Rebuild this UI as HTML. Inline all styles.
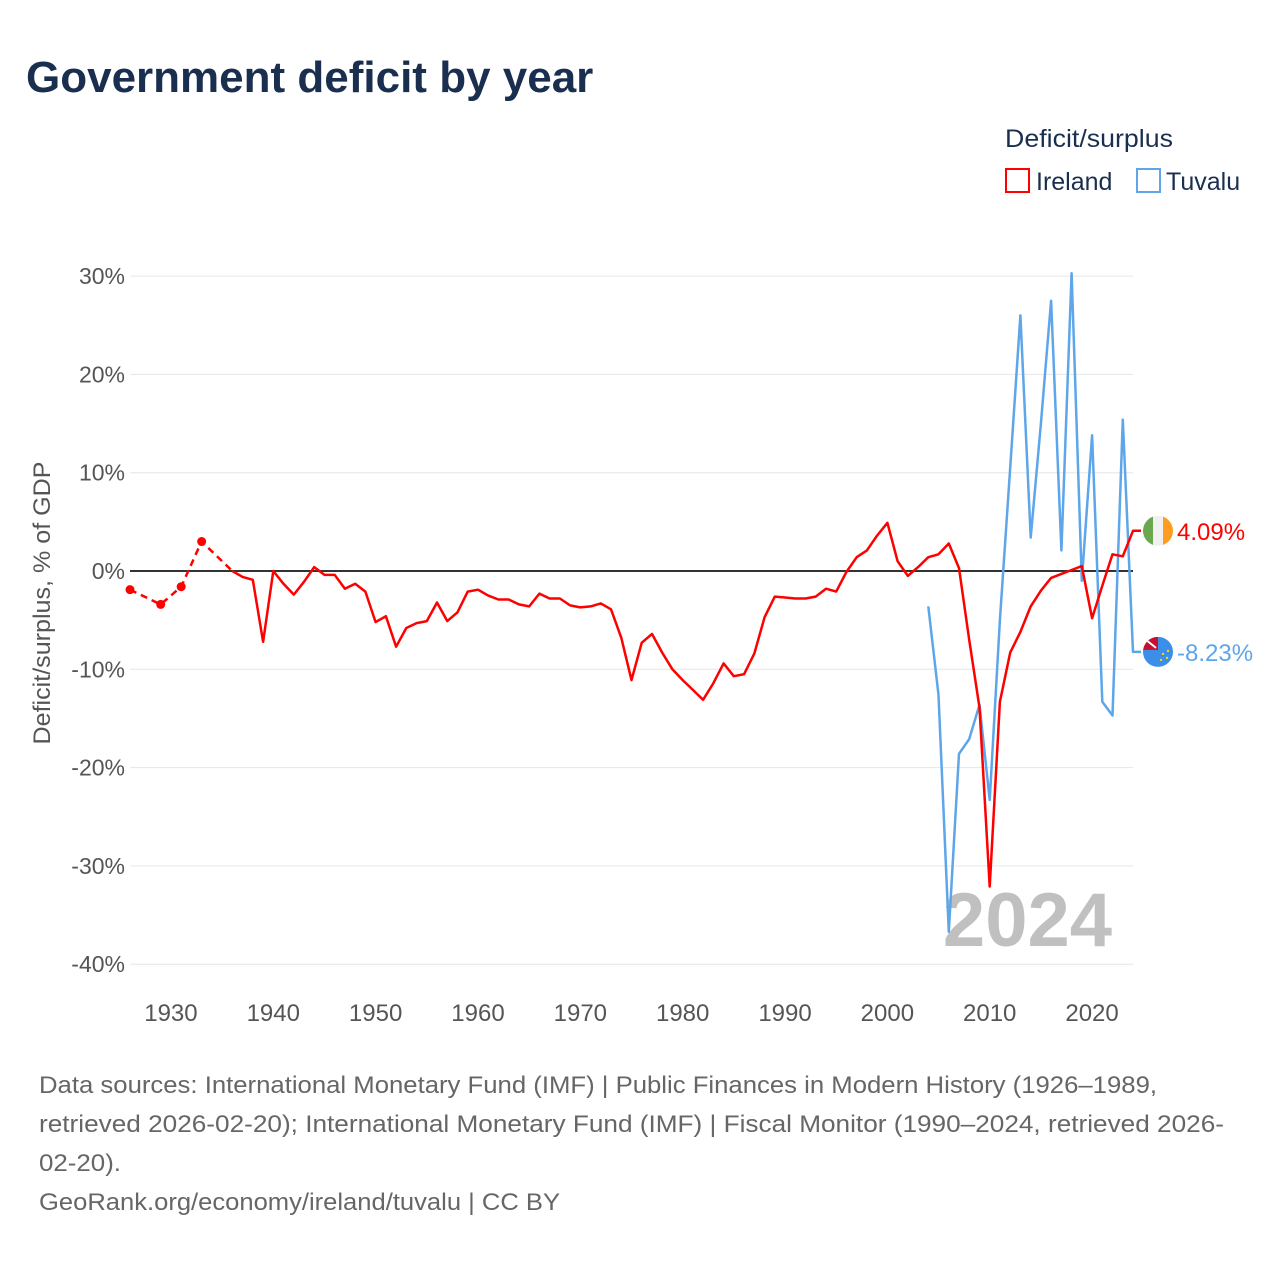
<!DOCTYPE html>
<html><head><meta charset="utf-8">
<style>
body{margin:0;background:#fff;font-family:"Liberation Sans",sans-serif;}
#wrap{position:relative;width:1280px;height:1280px;overflow:hidden;}
</style></head>
<body>
<div id="wrap">
<svg id="chart" width="1280" height="1280"></svg>
</div>
<script>
const irelandYears=[1926,1929,1931,1933,1936,1937,1938,1939,1940,1941,1942,1943,1944,1945,1946,1947,1948,1949,1950,1951,1952,1953,1954,1955,1956,1957,1958,1959,1960,1961,1962,1963,1964,1965,1966,1967,1968,1969,1970,1971,1972,1973,1974,1975,1976,1977,1978,1979,1980,1981,1982,1983,1984,1985,1986,1987,1988,1989,1990,1991,1992,1993,1994,1995,1996,1997,1998,1999,2000,2001,2002,2003,2004,2005,2006,2007,2008,2009,2010,2011,2012,2013,2014,2015,2016,2017,2018,2019,2020,2021,2022,2023,2024];
const irelandValues=[-1.9,-3.4,-1.6,3.0,0,-0.6,-0.9,-7.2,0,-1.3,-2.4,-1.1,0.4,-0.4,-0.4,-1.8,-1.3,-2.1,-5.2,-4.6,-7.7,-5.8,-5.3,-5.1,-3.2,-5.1,-4.2,-2.1,-1.9,-2.5,-2.9,-2.9,-3.4,-3.6,-2.3,-2.8,-2.8,-3.5,-3.7,-3.6,-3.3,-3.9,-6.8,-11.1,-7.3,-6.4,-8.3,-10.0,-11.1,-12.1,-13.1,-11.4,-9.4,-10.7,-10.5,-8.4,-4.7,-2.6,-2.7,-2.8,-2.8,-2.6,-1.8,-2.1,-0.1,1.4,2.1,3.6,4.9,1.0,-0.5,0.4,1.4,1.7,2.8,0.3,-7.0,-13.9,-32.1,-13.3,-8.3,-6.2,-3.6,-2.0,-0.7,-0.3,0.1,0.5,-4.8,-1.5,1.7,1.5,4.09];
const irelandDashedCount=5;
const tuvaluYears=[2004,2005,2006,2007,2008,2009,2010,2011,2012,2013,2014,2015,2016,2017,2018,2019,2020,2021,2022,2023,2024];
const tuvaluValues=[-3.6,-12.6,-36.7,-18.6,-17.1,-13.6,-23.3,-5,10.5,26.0,3.4,15,27.5,2.1,30.3,-1.0,13.8,-13.3,-14.7,15.4,-8.23];
const yTicks=[30,20,10,0,-10,-20,-30,-40];
const xTicks=[1930,1940,1950,1960,1970,1980,1990,2000,2010,2020];

const NS='http://www.w3.org/2000/svg';
const svg=document.getElementById('chart');
function xs(y){return 130+(y-1926)*(1133-130)/98;}
function ys(v){return 571-v*9.83;}
function mk(tag,attrs,text){const e=document.createElementNS(NS,tag);for(const k in attrs)e.setAttribute(k,attrs[k]);if(text!==undefined)e.textContent=text;svg.appendChild(e);return e;}

let t=mk('text',{x:26,y:92,'font-size':44,'font-weight':'bold',fill:'#1a2f4f'},'Government deficit by year');



t=mk('text',{x:1005,y:147,'font-size':25,fill:'#1a2f4f',textLength:168,lengthAdjust:'spacingAndGlyphs'},'Deficit/surplus');


let r=mk('rect',{x:1006,y:169,width:23,height:23,fill:'none',stroke:'#f00','stroke-width':2});


t=mk('text',{x:1036,y:190,'font-size':25,fill:'#1a2f4f'},'Ireland');


r=mk('rect',{x:1137,y:169,width:23,height:23,fill:'none',stroke:'#5ea6ea','stroke-width':2});


t=mk('text',{x:1166,y:190,'font-size':25,fill:'#1a2f4f'},'Tuvalu');



yTicks.forEach(v=>{
  const l=mk('line',{x1:130,x2:1133,y1:ys(v),y2:ys(v),stroke:v===0?'#333':'#e6e6e6','stroke-width':v===0?2:1});
  
  
  const tx=mk('text',{x:125,y:ys(v)+8,'font-size':23,fill:'#555','text-anchor':'end'},v+'%');
  
  
});
xTicks.forEach(y=>{
  const tx=mk('text',{x:xs(y),y:1021,'font-size':24,fill:'#555','text-anchor':'middle'},String(y));
  
  
});
t=mk('text',{x:0,y:0,'font-size':24,fill:'#555','text-anchor':'middle',transform:'translate(50,603) rotate(-90)',textLength:283,lengthAdjust:'spacingAndGlyphs'},'Deficit/surplus, % of GDP');



t=mk('text',{x:1112,y:946,'font-size':76,'font-weight':'bold',fill:'#c0c0c0','text-anchor':'end'},'2024');



function pts(ys_,vs,a,b){return ys_.slice(a,b).map((y,i)=>xs(y).toFixed(1)+','+ys(vs[a+i]).toFixed(1)).join(' ');}
const tuLast=tuvaluValues[tuvaluValues.length-1], irLast=irelandValues[irelandValues.length-1];
let p=mk('polyline',{points:pts(tuvaluYears,tuvaluValues,0,tuvaluYears.length)+' 1141,'+ys(tuLast).toFixed(1),fill:'none',stroke:'#5ea6ea','stroke-width':2.5,'stroke-linejoin':'round'});


p=mk('polyline',{points:pts(irelandYears,irelandValues,0,irelandDashedCount),fill:'none',stroke:'#f00','stroke-width':2.5,'stroke-dasharray':'7,5'});


for(let i=0;i<irelandDashedCount-1;i++){
  const c=mk('circle',{cx:xs(irelandYears[i]),cy:ys(irelandValues[i]),r:4.5,fill:'#f00'});
  
  
}
p=mk('polyline',{points:pts(irelandYears,irelandValues,irelandDashedCount-1,irelandYears.length)+' 1141,'+ys(irLast).toFixed(1),fill:'none',stroke:'#f00','stroke-width':2.5,'stroke-linejoin':'round'});



const irY=ys(irLast), tuY=ys(tuLast);
let g=mk('g',{});


g.innerHTML=`<clipPath id="cI"><circle cx="1158" cy="${irY}" r="15"/></clipPath><g clip-path="url(#cI)"><rect x="1143" y="${irY-15}" width="10" height="30" fill="#6aa84f"/><rect x="1153" y="${irY-15}" width="10" height="30" fill="#f0f0f0"/><rect x="1163" y="${irY-15}" width="10" height="30" fill="#ff9b1f"/></g>`;
g=mk('g',{});


g.innerHTML=`<clipPath id="cT"><circle cx="1158" cy="${tuY}" r="15"/></clipPath><g clip-path="url(#cT)"><rect x="1143" y="${tuY-15}" width="30" height="30" fill="#3b8fe8"/><rect x="1143" y="${tuY-15}" width="15" height="13" fill="#c8102e"/><path d="M1146 ${tuY-12} L1156 ${tuY-4}" stroke="#fff" stroke-width="2"/><circle cx="1163" cy="${tuY+2}" r="1.2" fill="#ffd700"/><circle cx="1167" cy="${tuY+6}" r="1.2" fill="#ffd700"/><circle cx="1161" cy="${tuY+8}" r="1.2" fill="#ffd700"/><circle cx="1168" cy="${tuY-1}" r="1.2" fill="#ffd700"/></g>`;
t=mk('text',{x:1177,y:irY+9,'font-size':24,fill:'#f00'},'4.09%');


t=mk('text',{x:1177,y:tuY+9,'font-size':24,fill:'#5ea6ea'},'-8.23%');



const foot=['Data sources: International Monetary Fund (IMF) | Public Finances in Modern History (1926–1989,','retrieved 2026-02-20); International Monetary Fund (IMF) | Fiscal Monitor (1990–2024, retrieved 2026-','02-20).','GeoRank.org/economy/ireland/tuvalu | CC BY'];
const footW=[1118,1185,82,521];
foot.forEach((s,i)=>{
  const tx=mk('text',{x:39,y:1093+i*39,'font-size':24,fill:'#666',textLength:footW[i],lengthAdjust:'spacingAndGlyphs'},s);
  
  
});
</script>
</body></html>
